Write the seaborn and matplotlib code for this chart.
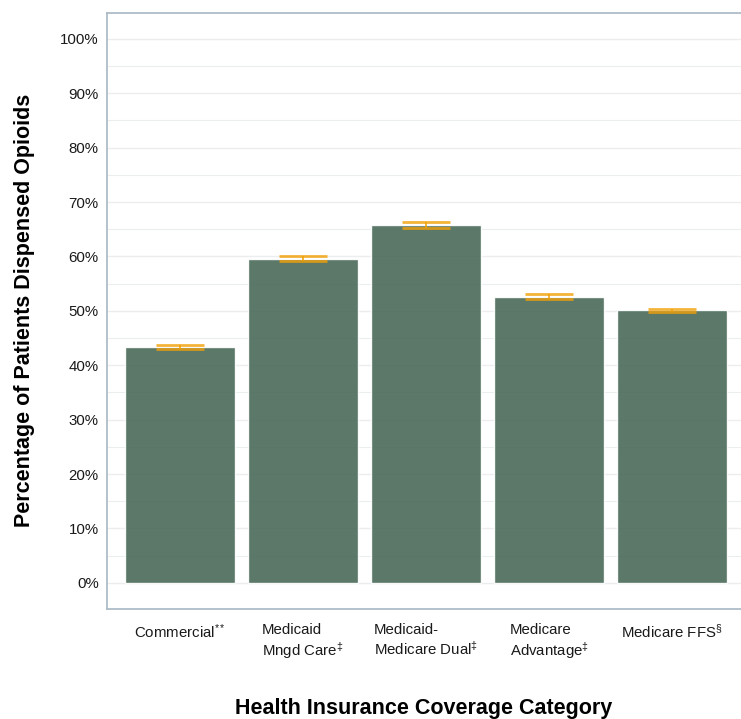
import matplotlib
matplotlib.use("Agg")
import matplotlib.pyplot as plt
from matplotlib.ticker import MultipleLocator, PercentFormatter
import seaborn as sns
import pandas as pd

# Share of patients dispensed opioids, by coverage category
categories = [
    "Commercial$^{**}$",
    "Medicaid\nMngd Care$^{‡}$",
    "Medicaid-\nMedicare Dual$^{‡}$",
    "Medicare\nAdvantage$^{‡}$",
    "Medicare FFS$^{§}$",
]
share = [0.434, 0.596, 0.658, 0.526, 0.501]
ci_half = [0.004, 0.0045, 0.005, 0.0045, 0.003]

sns.set_theme(style="white")
plt.rcParams["font.family"] = ["Liberation Sans", "DejaVu Sans"]
plt.rcParams["mathtext.fontset"] = "custom"
plt.rcParams["mathtext.rm"] = "Liberation Sans"
plt.rcParams["mathtext.it"] = "Liberation Sans"
plt.rcParams["mathtext.fallback"] = "cm"

df = pd.DataFrame({"category": categories, "share": share})

fig = plt.figure(figsize=(7.41, 7.19), dpi=100)
ax = fig.add_axes([107 / 741, 1 - 609 / 719, 1 - 107 / 741, (609 - 12.7) / 719])

grid_color = "#EBEDEF"
ax.set_axisbelow(True)
ax.yaxis.set_major_locator(MultipleLocator(0.1))
ax.yaxis.set_minor_locator(MultipleLocator(0.05))
ax.grid(which="major", axis="both", color=grid_color, linewidth=1.0)
ax.grid(which="minor", axis="y", color=grid_color, linewidth=0.8)

sns.barplot(data=df, x="category", y="share", color="#4D6D5C", saturation=1,
            width=0.9, alpha=0.92, ax=ax, errorbar=None)

ax.errorbar(range(len(share)), share, yerr=ci_half, fmt="none",
            ecolor="#F2A007", alpha=0.8, elinewidth=1.4, capsize=17.6,
            capthick=2.0, zorder=5)

ax.set_xlim(-0.593, 4.56)
ax.set_ylim(-0.048, 1.048)
ax.yaxis.set_major_formatter(PercentFormatter(1.0, decimals=0))

for side in ["left", "bottom", "top"]:
    ax.spines[side].set_visible(True)
    ax.spines[side].set_color("#A9B8C2")
    ax.spines[side].set_linewidth(1.2)
ax.spines["right"].set_visible(False)

ax.tick_params(axis="both", which="both", length=0, labelsize=10.8, colors="#1a1a1a")
ax.tick_params(axis="x", pad=10)
ax.tick_params(axis="y", pad=6)
for lab in ax.get_xticklabels():
    lab.set_multialignment("left")

ax.set_xlabel("Health Insurance Coverage Category", fontsize=15.5,
              fontweight="bold", color="black")
ax.set_ylabel("Percentage of Patients Dispensed Opioids", fontsize=15.5,
              fontweight="bold", color="black")
ax.xaxis.set_label_coords(0.5, -0.149)
ax.yaxis.set_label_coords(-0.1135, 0.5)

fig.savefig("out.png", dpi=100)
